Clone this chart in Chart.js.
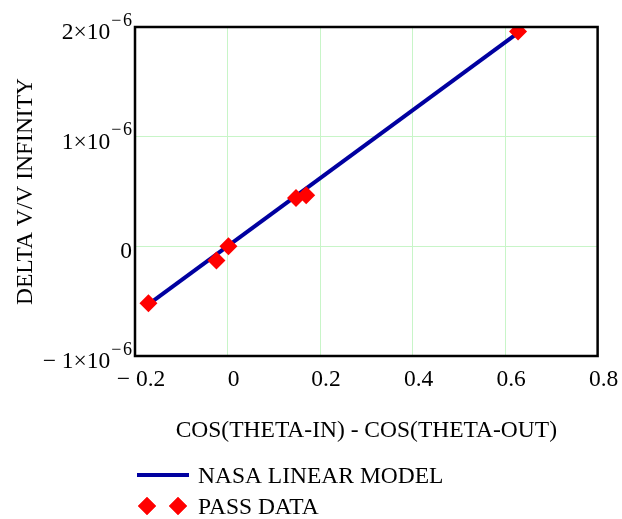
<!DOCTYPE html>
<html>
<head>
<meta charset="utf-8">
<script src="https://cdn.jsdelivr.net/npm/chart.js@4"></script>
<style>
  body { margin: 0; background: #fff; }
  canvas { display: block; }
</style>
</head>
<body>
<canvas id="flyby" width="622" height="519"></canvas>
<script>
// pass data
var passX = [-0.171, -0.024, 0.002, 0.148, 0.170, 0.628];
var passY = [-0.52e-6, -0.13e-6, 0.0, 0.44e-6, 0.465e-6, 1.96e-6];

// NASA linear model, end points of the drawn line
var modelX = [-0.171, 0.63];
var modelY = [-0.53e-6, 1.953e-6];

var xTicks = [-0.2, 0, 0.2, 0.4, 0.6, 0.8];
var yTicks = [-1e-6, 0, 1e-6, 2e-6];

var serif = "'Liberation Serif', 'Times New Roman', serif";

function pts(xs, ys) {
  return xs.map(function (x, i) { return { x: x, y: ys[i] }; });
}

var blue = '#0000a0';
var red = '#ff0000';

// draws the box, the y tick labels (with exponent) and the legend
var extras = {
  id: 'extras',
  afterDraw: function (chart) {
    var ctx = chart.ctx;
    var a = chart.chartArea;
    ctx.save();
    ctx.strokeStyle = '#000';
    ctx.lineWidth = 2.5;
    ctx.strokeRect(a.left, a.top, a.right - a.left, a.bottom - a.top);

    // y tick labels like 2×10^-6
    var ys = chart.scales.y;
    ctx.fillStyle = '#000';
    ctx.textBaseline = 'alphabetic';
    yTicks.forEach(function (v) {
      var py = ys.getPixelForValue(v);
      if (v === 0) {
        ctx.font = '23.5px ' + serif;
        ctx.textAlign = 'right';
        ctx.fillText('0', 132, py + 12);
        return;
      }
      var m = Math.round(v / 1e-6);
      var base = (m < 0 ? '\u2212 ' : '') + Math.abs(m) + '\u00d710';
      var sup = '\u2212\u200a6';
      ctx.font = '18px ' + serif;
      ctx.textAlign = 'right';
      var sw = ctx.measureText(sup).width;
      ctx.fillText(sup, 132, py - 1.5);
      ctx.font = '23.5px ' + serif;
      ctx.fillText(base, 132 - sw - 1, py + 12);
    });

    // legend
    var ds = chart.data.datasets;
    ctx.strokeStyle = blue;
    ctx.lineWidth = 4;
    ctx.beginPath();
    ctx.moveTo(137, 475);
    ctx.lineTo(189, 475);
    ctx.stroke();
    ctx.font = '23.5px ' + serif;
    ctx.textAlign = 'left';
    ctx.fillStyle = '#000';
    ctx.fillText(ds[0].label, 198, 483);
    ctx.fillText(ds[1].label, 198, 514);
    ctx.fillStyle = red;
    [147, 178].forEach(function (cx) {
      Chart.helpers.drawPoint(ctx, { pointStyle: 'rectRot', radius: 9, borderWidth: 0 }, cx, 506);
      ctx.fill();
    });
    ctx.restore();
  }
};

var ctx = document.getElementById('flyby').getContext('2d');
var chart = new Chart(ctx, {
  type: 'scatter',
  data: {
    datasets: [{
      label: 'NASA LINEAR MODEL',
      data: pts(modelX, modelY),
      showLine: true,
      borderColor: blue,
      borderWidth: 4,
      pointRadius: 0,
      order: 1
    }, {
      label: 'PASS DATA',
      data: pts(passX, passY),
      pointStyle: 'rectRot',
      pointRadius: 9,
      pointBorderWidth: 0,
      backgroundColor: red,
      borderColor: red,
      order: 0
    }]
  },
  options: {
    responsive: false,
    animation: false,
    layout: { padding: { left: 0, top: 27, right: 23, bottom: 0 } },
    plugins: {
      legend: { display: false },
      tooltip: { enabled: false }
    },
    scales: {
      x: {
        type: 'linear',
        min: -0.2,
        max: 0.8,
        afterBuildTicks: function (s) { s.ticks = xTicks.map(function (v) { return { value: v }; }); },
        afterFit: function (s) { s.height = 163; },
        grid: { color: '#c8f5c8', drawTicks: false },
        border: { display: false },
        ticks: {
          padding: 9.7,
          labelOffset: 6,
          color: '#000',
          font: { family: serif, size: 23.5 },
          callback: function (v) {
            if (Math.abs(v) < 1e-9) return '0';
            return (v < 0 ? '\u2212 ' : '') + Math.abs(v).toFixed(1);
          }
        },
        title: {
          display: true,
          text: 'COS(THETA-IN) - COS(THETA-OUT)',
          color: '#000',
          font: { family: serif, size: 23.5 },
          padding: { top: 0, bottom: 74 }
        }
      },
      y: {
        type: 'linear',
        min: -1e-6,
        max: 2e-6,
        afterBuildTicks: function (s) { s.ticks = yTicks.map(function (v) { return { value: v }; }); },
        afterFit: function (s) { s.width = 135; },
        grid: { color: '#c8f5c8', drawTicks: false },
        border: { display: false },
        ticks: { display: false },
        title: {
          display: true,
          text: 'DELTA V/V INFINITY',
          color: '#000',
          font: { family: serif, size: 23.5 },
          padding: { top: 11.4, bottom: 0 }
        }
      }
    }
  },
  plugins: [extras]
});
</script>
</body>
</html>
